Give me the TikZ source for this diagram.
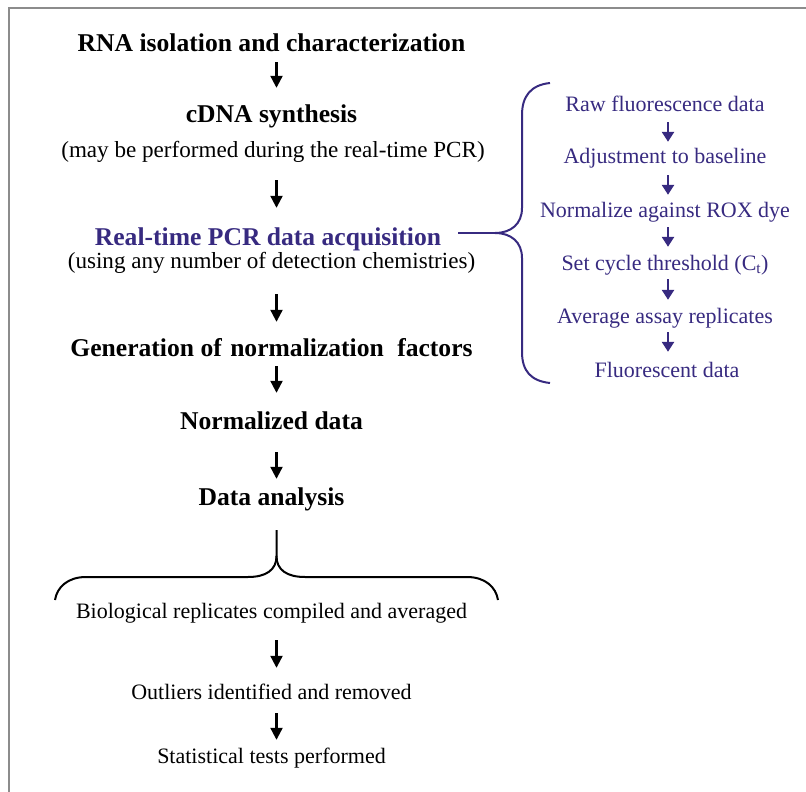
\documentclass[tikz,border=0pt]{standalone}
\usepackage{fontspec}
\setmainfont{Liberation Serif}
\usetikzlibrary{arrows.meta}
\definecolor{pcrblue}{RGB}{55,42,128}
\definecolor{framegray}{RGB}{140,140,140}
\begin{document}
\begin{tikzpicture}[x=1pt,y=-1pt,
  hd/.style={font=\fontsize{25.6}{30}\selectfont\bfseries, inner sep=0pt, text height=18pt, text depth=6pt, anchor=base},
  sub/.style={font=\fontsize{23.1}{28}\selectfont, inner sep=0pt, text height=17pt, text depth=6pt, anchor=base},
  rtx/.style={font=\fontsize{22}{26}\selectfont, text=pcrblue, inner sep=0pt, text height=16pt, text depth=5pt, anchor=base},
  btx/.style={font=\fontsize{22}{26}\selectfont, inner sep=0pt, text height=16pt, text depth=5pt, anchor=base},
  arr/.style={line width=2.2pt, -{Triangle[length=12pt,width=12pt]}},
  barr/.style={line width=2.6pt, draw=pcrblue, -{Triangle[length=10pt,width=12pt]}},
  brace/.style={line width=2pt},
  bbrace/.style={line width=2pt, draw=pcrblue}
]
\useasboundingbox (0,0) rectangle (806,792);
\draw[framegray, line width=1.5pt] (9,792) -- (9,8) -- (806,8);

% main column
\node[hd] (rna) at (271.5,52) {RNA isolation and characterization};
\node[hd] (cdna) at (271.5,122) {cDNA synthesis};
\node[sub] (may) at (273,157) {(may be performed during the real-time PCR)};
\node[hd, text=pcrblue] (rtp) at (268,245) {Real-time PCR data acquisition};
\node[sub] (using) at (271.5,268) {(using any number of detection chemistries)};
\node[hd] (gen) at (271.5,356) {Generation of\hspace{2pt} normalization\hspace{7pt} factors};
\node[hd] (norm) at (271.5,429) {Normalized data};
\node[hd] (da) at (271.5,505) {Data analysis};
\node[btx] (bio) at (271.5,618) {Biological replicates compiled and averaged};
\node[btx] (out) at (271.5,699) {Outliers identified and removed};
\node[btx] (stat) at (271.5,763) {Statistical tests performed};

\draw[arr, shorten <=4pt, shorten >=16pt] ([xshift=5pt]rna.south) -- ([xshift=5pt]cdna.north);
\draw[arr, shorten <=17pt, shorten >=19pt] ([xshift=3.5pt]may.south) -- ([xshift=8.5pt]rtp.north);
\draw[arr, shorten <=20pt, shorten >=16pt] ([xshift=5pt]using.south) -- ([xshift=5pt]gen.north);
\draw[arr, shorten <=4pt, shorten >=18pt] ([xshift=5pt]gen.south) -- ([xshift=5pt]norm.north);
\draw[arr, shorten <=17pt, shorten >=8pt] ([xshift=5pt]norm.south) -- ([xshift=5pt]da.north);
\draw[arr, shorten <=17pt, shorten >=15pt] ([xshift=5pt]bio.south) -- ([xshift=5pt]out.north);
\draw[arr, shorten <=9pt, shorten >=7pt] ([xshift=5pt]out.south) -- ([xshift=5pt]stat.north);

% bottom brace
\coordinate (stemtop) at (276.5,530);
\coordinate (bl) at (55,600);
\coordinate (br) at (498,600);
\draw[brace] (bl) .. controls (57,587) and (68,577) .. (86,577) -- (248,577)
  .. controls (266,577) and (276.5,570) .. (276.5,556) -- (stemtop);
\draw[brace] (br) .. controls (496,587) and (485,577) .. (467,577) -- (305,577)
  .. controls (287,577) and (276.5,570) .. (276.5,556);

% right column
\node[rtx] (raw) at (665,111) {Raw fluorescence data};
\node[rtx] (adj) at (665,163) {Adjustment to baseline};
\node[rtx] (rox) at (665,217) {Normalize against ROX dye};
\node[rtx] (ct) at (665,270) {Set cycle threshold (C\textsubscript{t})};
\node[rtx] (avg) at (665,323) {Average assay replicates};
\node[rtx] (fl) at (667,377) {Fluorescent data};

\draw[barr, shorten <=6pt, shorten >=5pt] ([xshift=3pt]raw.south) -- ([xshift=3pt]adj.north);
\draw[barr, shorten <=7pt, shorten >=6pt] ([xshift=3pt]adj.south) -- ([xshift=3pt]rox.north);
\draw[barr, shorten <=5pt, shorten >=7pt] ([xshift=3pt]rox.south) -- ([xshift=3pt]ct.north);
\draw[barr, shorten <=4pt, shorten >=7pt] ([xshift=3pt]ct.south) -- ([xshift=3pt]avg.north);
\draw[barr, shorten <=4pt, shorten >=9pt] ([xshift=3pt]avg.south) -- ([xshift=1pt]fl.north);

% right brace
\coordinate (tip) at (495,233);
\coordinate (lstart) at (458,233);
\draw[bbrace] (lstart) -- (tip);
\draw[bbrace] (550,83) .. controls (531,85) and (522,96) .. (522,115) -- (522,208)
  .. controls (522,224) and (511,233) .. (tip)
  .. controls (511,233) and (522,242) .. (522,258) -- (522,352)
  .. controls (522,371) and (531,381) .. (550,383);
\end{tikzpicture}
\end{document}
